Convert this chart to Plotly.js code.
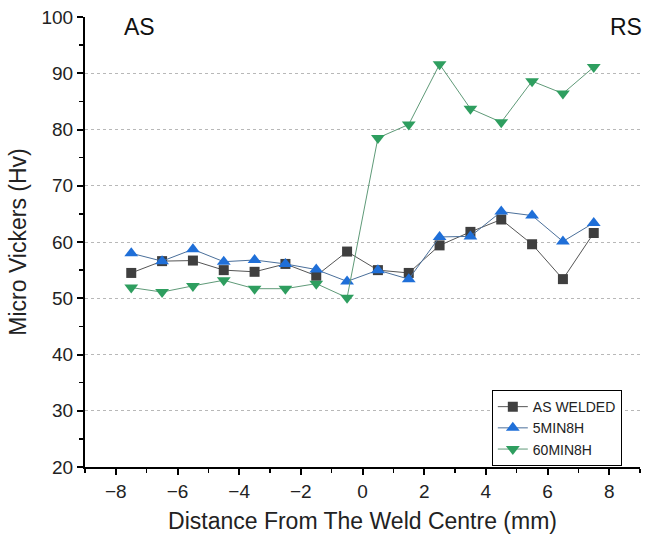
<!DOCTYPE html>
<html>
<head>
<meta charset="utf-8">
<script src="https://cdn.plot.ly/plotly-3.0.1.min.js"></script>
<style>html,body{margin:0;padding:0;background:#fff;}#chart{width:646px;height:539px;}</style>
</head>
<body>
<div id="chart"></div>
<script>
var distance = [-7.5, -6.5, -5.5, -4.5, -3.5, -2.5, -1.5, -0.5, 0.5, 1.5, 2.5, 3.5, 4.5, 5.5, 6.5, 7.5];
var asWelded = [54.5, 56.6, 56.7, 55.0, 54.7, 56.1, 54.0, 58.3, 55.0, 54.5, 59.4, 61.8, 64.0, 59.6, 53.4, 61.6];
var min5h8 = [58.0, 56.6, 58.7, 56.5, 56.8, 56.1, 55.1, 53.0, 55.0, 53.4, 60.9, 61.0, 65.4, 64.7, 60.1, 63.4];
var min60h8 = [51.9, 51.1, 52.2, 53.2, 51.7, 51.7, 52.6, 50.1, 78.5, 80.9, 91.6, 83.7, 81.3, 88.6, 86.4, 91.1];
var seriesNames = ["AS WELDED", "5MIN8H", "60MIN8H"];
var sideLabels = ["AS", "RS"];

var font = "Liberation Sans, Arial, sans-serif";

var traces = [
  {x: distance, y: asWelded, name: seriesNames[0], mode: "lines+markers", type: "scatter",
   line: {color: "#555555", width: 1},
   marker: {symbol: "square", size: 10, color: "#3f3f3f"}},
  {x: distance, y: min5h8, name: seriesNames[1], mode: "lines+markers", type: "scatter",
   line: {color: "#4a6f9a", width: 1},
   marker: {symbol: "triangle-up", size: 12, color: "#1f6fd8"}},
  {x: distance, y: min60h8, name: seriesNames[2], mode: "lines+markers", type: "scatter",
   line: {color: "#5f9a78", width: 1},
   marker: {symbol: "triangle-down", size: 12, color: "#2e9e5f"}}
];

var layout = {
  width: 646, height: 539,
  margin: {l: 85, r: 6, t: 17, b: 72, pad: 0},
  paper_bgcolor: "#fff", plot_bgcolor: "#fff",
  font: {family: font, color: "#222", size: 19},
  showlegend: true,
  legend: {x: 0.733, y: 0.171, xanchor: "left", yanchor: "top",
           bordercolor: "#000", borderwidth: 1, bgcolor: "#fff",
           font: {family: font, size: 14, color: "#222"},
           tracegroupgap: 0, itemwidth: 30},
  xaxis: {
    range: [-9, 9], dtick: 2, tick0: 0,
    showline: true, linecolor: "#000", linewidth: 2,
    ticks: "outside", ticklen: 6, tickwidth: 2, tickcolor: "#000",
    minor: {dtick: 1, ticks: "outside", ticklen: 4, tickwidth: 1.5, tickcolor: "#000"},
    showgrid: false, zeroline: false,
    tickfont: {family: font, size: 19, color: "#222"},
    title: {text: "Distance From The Weld Centre (mm)", font: {family: font, size: 23, color: "#222"}, standoff: 12}
  },
  yaxis: {
    range: [20, 100], dtick: 10, tick0: 0,
    showline: true, linecolor: "#000", linewidth: 2,
    ticks: "outside", ticklen: 6, tickwidth: 2, tickcolor: "#000",
    minor: {dtick: 5, ticks: "outside", ticklen: 4, tickwidth: 1.5, tickcolor: "#000", showgrid: false},
    showgrid: true, gridcolor: "#b8b8b8", griddash: "dot", gridwidth: 1,
    zeroline: false,
    tickfont: {family: font, size: 19, color: "#222"},
    title: {text: "Micro Vickers (Hv)", font: {family: font, size: 23, color: "#222"}, standoff: 8}
  },
  annotations: [
    {text: sideLabels[0], xref: "paper", yref: "paper", x: 0.099, y: 0.978, xanchor: "center", yanchor: "middle",
     showarrow: false, font: {family: font, size: 23, color: "#111"}},
    {text: sideLabels[1], xref: "paper", yref: "paper", x: 1.008, y: 0.978, xanchor: "right", yanchor: "middle",
     showarrow: false, font: {family: font, size: 23, color: "#111"}}
  ]
};

Plotly.newPlot("chart", traces, layout, {displayModeBar: false, staticPlot: true});
</script>
</body>
</html>
